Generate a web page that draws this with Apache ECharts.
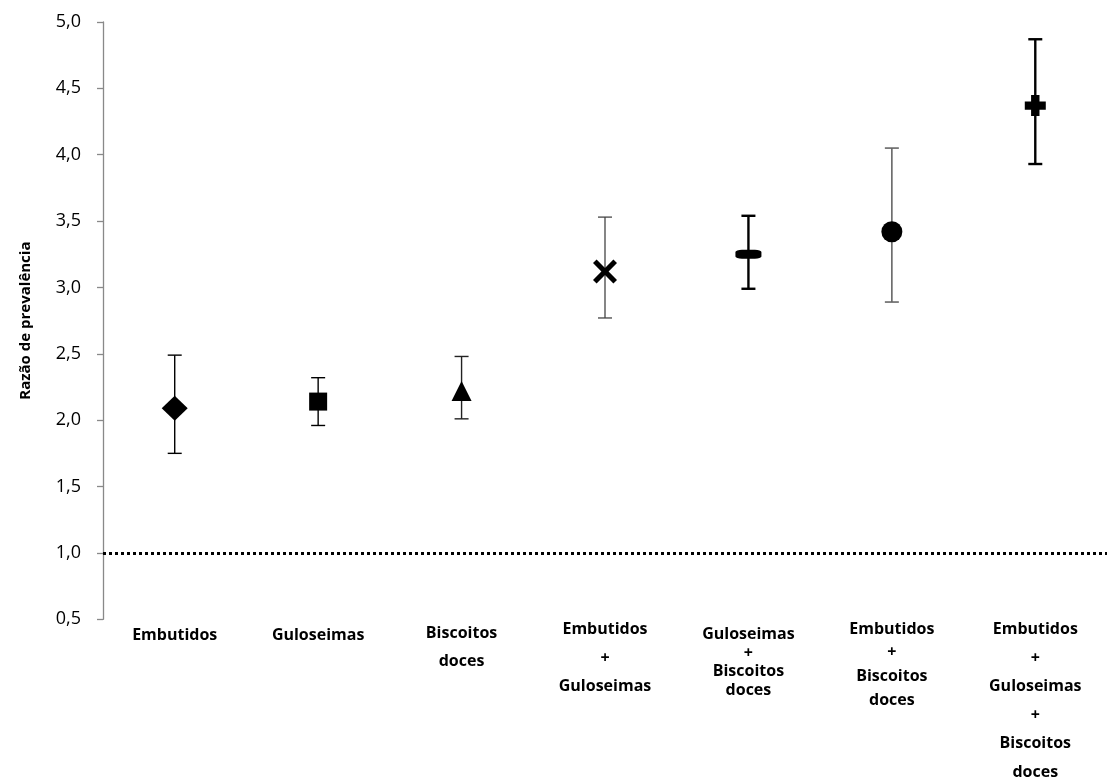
<!DOCTYPE html>
<html><head><meta charset="utf-8">
<script src="https://cdn.jsdelivr.net/npm/echarts@6/dist/echarts.min.js"></script>
<style>html,body{margin:0;padding:0;background:#fff}#c{width:1107px;height:780px}</style>
</head><body><div id="c"></div>
<script>
// ---- data ----
const categories = ['Embutidos', 'Guloseimas', 'Biscoitos\ndoces', 'Embutidos\n+\nGuloseimas',
  'Guloseimas\n+\nBiscoitos\ndoces', 'Embutidos\n+\nBiscoitos\ndoces', 'Embutidos\n+\nGuloseimas\n+\nBiscoitos\ndoces'];
const prValues = [2.09, 2.14, 2.22, 3.12, 3.25, 3.42, 4.37];
const ciLower = [1.75, 1.96, 2.01, 2.77, 2.99, 2.89, 3.93];
const ciUpper = [2.49, 2.32, 2.48, 3.53, 3.54, 4.05, 4.87];
const yMin = 0.5, yMax = 5.0, yStep = 0.5;
const referenceLine = 1.0;

// ---- styles ----
const markerSymbols = ['diamond', 'rect', 'triangle',
  'path://M2,5 L5,2 L12,9 L19,2 L22,5 L15,12 L22,19 L19,22 L12,15 L5,22 L2,19 L9,12 Z',
  'roundRect', 'circle',
  'path://M6,0 H14 V6 H20 V14 H14 V20 H6 V14 H0 V6 H6 Z'];
const markerSizes = [[26, 25], [18, 18], [20, 20], [24, 24], [26, 9], [21, 21], [21, 21]];
const barColors = ['#000', '#000', '#222', '#444', '#000', '#666', '#000'];
const barWidths = [1.4, 1.4, 1.4, 1.3, 2.4, 1.6, 2.4];
const labelLH = [44, 44, 28, 28.5, 18.5, 23.7, 28.5];
const labelGap = [0, 0, 6, 2, 12, 4, 2];

const rich = {};
labelLH.forEach((lh, i) => {
  rich['l' + i] = { fontFamily: 'Open Sans', fontWeight: 'bold', fontSize: 16, color: '#000', lineHeight: lh, align: 'center' };
  rich['g' + i] = { fontSize: 1, lineHeight: labelGap[i] || 1 };
});

const chart = echarts.init(document.getElementById('c'), null, { renderer: 'canvas' });
chart.setOption({
  animation: false,
  backgroundColor: '#fff',
  grid: { left: 103, top: 22, width: 1017, bottom: 160, containLabel: false },
  xAxis: {
    type: 'category', data: categories, boundaryGap: true,
    axisLine: { show: false }, axisTick: { show: false }, splitLine: { show: false },
    axisLabel: {
      interval: 0, margin: -6, rich: rich,
      formatter: (val, idx) => {
        const lines = val.split('\n').map(s => '{l' + idx + '|' + s + '}');
        return (labelGap[idx] ? '{g' + idx + '| }\n' : '') + lines.join('\n');
      }
    }
  },
  yAxis: {
    type: 'value', min: yMin, max: yMax, interval: yStep,
    name: 'Razão de prevalência', nameLocation: 'middle', nameGap: 70,
    nameTextStyle: { fontFamily: 'Open Sans', fontWeight: 'bold', fontSize: 15, color: '#000' },
    axisLine: { show: true, lineStyle: { color: '#898989', width: 1.3 } },
    axisTick: { show: true, inside: false, length: 6, lineStyle: { color: '#898989', width: 1.3 } },
    splitLine: { show: false },
    axisLabel: { margin: 22, fontFamily: 'Open Sans', fontSize: 18, color: '#000',
      formatter: v => v.toFixed(1).replace('.', ',') }
  },
  series: [
    {
      type: 'custom', z: 2,
      data: categories.map((c, i) => [i, ciLower[i], ciUpper[i]]),
      encode: { x: 0, y: [1, 2] },
      renderItem: (params, api) => {
        const i = api.value(0);
        const lo = api.coord([i, api.value(1)]);
        const hi = api.coord([i, api.value(2)]);
        const w = 7;
        const st = { stroke: barColors[i], lineWidth: barWidths[i] };
        return { type: 'group', children: [
          { type: 'line', shape: { x1: lo[0], y1: lo[1], x2: hi[0], y2: hi[1] }, style: st },
          { type: 'line', shape: { x1: lo[0] - w, y1: lo[1], x2: lo[0] + w, y2: lo[1] }, style: st },
          { type: 'line', shape: { x1: hi[0] - w, y1: hi[1], x2: hi[0] + w, y2: hi[1] }, style: st }
        ] };
      }
    },
    {
      type: 'scatter', z: 3,
      data: prValues.map((v, i) => ({ value: [i, v], symbol: markerSymbols[i], symbolSize: markerSizes[i],
        itemStyle: { color: '#000', opacity: 1 } })),
      markLine: {
        silent: true, symbol: 'none', label: { show: false },
        lineStyle: { color: '#000', width: 3, type: [3, 3], opacity: 1 },
        data: [{ yAxis: referenceLine }]
      }
    }
  ]
});
</script>
</body></html>
